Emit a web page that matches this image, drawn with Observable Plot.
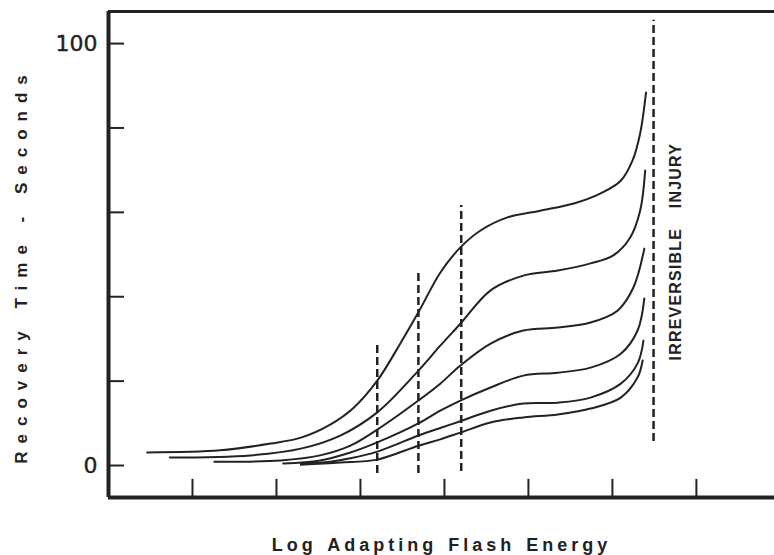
<!DOCTYPE html>
<html>
<head>
<meta charset="utf-8">
<script src="https://cdn.jsdelivr.net/npm/d3@7"></script>
<script src="https://cdn.jsdelivr.net/npm/@observablehq/plot@0.6"></script>
<style>
  html, body { margin: 0; padding: 0; background: #fff; }
</style>
</head>
<body>
<div id="chart"></div>
<script>
// Axis ticks
const xTicks = [1, 2, 3, 4, 5, 6, 7];
const yTicks = [0, 20, 40, 60, 80, 100];
const yTickLabels = [0, 100];

// Six recovery curves (x = log adapting flash energy in tick units, y = seconds)
const c1x = [0.46, 1.33, 1.93, 2.29, 2.64, 2.92, 3.20, 3.48, 3.69, 3.95, 4.19, 4.43, 4.75, 5.14, 5.54, 5.86, 6.10, 6.24, 6.33, 6.40];
const c1y = [3.1, 3.6, 5.2, 6.6, 9.7, 13.7, 20.1, 29.1, 36.3, 45.7, 51.7, 55.7, 58.8, 60.4, 62.1, 64.5, 67.5, 72.3, 78.7, 88.4];
const c2x = [0.73, 1.69, 2.29, 2.76, 3.20, 3.69, 3.95, 4.19, 4.55, 4.94, 5.35, 5.74, 6.01, 6.21, 6.33, 6.39];
const c2y = [1.9, 2.4, 4.0, 7.1, 12.6, 22.5, 28.4, 33.6, 41.5, 45.0, 46.2, 47.9, 49.8, 54.0, 60.4, 69.9];
const c3x = [1.26, 2.05, 2.52, 2.88, 3.20, 3.69, 3.95, 4.19, 4.55, 4.94, 5.35, 5.74, 6.06, 6.25, 6.38];
const c3y = [0.9, 1.2, 2.4, 4.7, 8.5, 15.4, 19.4, 23.7, 28.9, 32.0, 32.7, 33.9, 36.7, 42.2, 51.4];
const c4x = [2.08, 2.52, 2.88, 3.20, 3.69, 3.95, 4.19, 4.55, 4.94, 5.35, 5.74, 6.10, 6.30, 6.38];
const c4y = [0.5, 1.2, 3.1, 5.5, 10.0, 13.0, 15.4, 18.5, 21.3, 22.0, 23.2, 26.5, 32.0, 39.6];
const c5x = [2.29, 2.64, 2.88, 3.20, 3.69, 3.95, 4.19, 4.55, 4.94, 5.35, 5.74, 6.10, 6.30, 6.37];
const c5y = [0.5, 0.9, 1.7, 3.3, 7.1, 8.9, 10.5, 13.0, 14.7, 14.9, 16.1, 19.4, 24.2, 29.6];
const c6x = [2.29, 2.76, 3.20, 3.69, 3.95, 4.19, 4.55, 4.94, 5.35, 5.74, 6.10, 6.30, 6.36];
const c6y = [0.2, 0.7, 1.4, 4.7, 6.2, 7.8, 10.2, 11.4, 12.1, 13.5, 16.1, 20.9, 24.9];

// Dashed vertical markers
const dashX = [3.20, 3.69, 4.20, 6.49];
const dashTop = [29.1, 45.7, 61.6, 105.5];
const dashBottom = [-1.9, -1.9, -1.4, 5.7];

const xTitle = "Log Adapting Flash Energy";
const yTitle = "Recovery Time - Seconds";
const injuryLabel = "IRREVERSIBLE INJURY";

const xDomain = [0, 7.93];
const yDomain = [-7.58, 107.6];

const series = [[c1x, c1y], [c2x, c2y], [c3x, c3y], [c4x, c4y], [c5x, c5y], [c6x, c6y]];
const rows = series.flatMap(([xs, ys], i) => xs.map((x, j) => ({series: i, x, y: ys[j]})));
const dashes = dashX.map((x, i) => ({x, y1: dashBottom[i], y2: dashTop[i]}));

const ink = "#222";
const font = "'Liberation Sans', Arial, Helvetica, sans-serif";

const chart = Plot.plot({
  width: 774,
  height: 555,
  marginLeft: 108,
  marginRight: 0,
  marginTop: 11,
  marginBottom: 58,
  style: {fontFamily: font, background: "#fff"},
  x: {domain: xDomain, axis: null},
  y: {domain: yDomain, axis: null},
  marks: [
    // frame
    Plot.ruleY([yDomain[1]], {stroke: ink, strokeWidth: 3}),
    Plot.ruleX([xDomain[0]], {stroke: ink, strokeWidth: 4}),
    Plot.ruleY([yDomain[0]], {stroke: ink, strokeWidth: 4}),
    // inward ticks
    Plot.ruleX(xTicks, {x: d => d, y1: yDomain[0], y2: yDomain[0] + 4.3, stroke: ink, strokeWidth: 2}),
    Plot.ruleY(yTicks, {y: d => d, x1: 0, x2: 0.19, stroke: ink, strokeWidth: 2}),
    // tick labels
    Plot.text(yTickLabels, {x: 0, y: d => d, text: d => String(d), dx: -11, textAnchor: "end", fontSize: 22, fontFamily: "'DejaVu Sans', sans-serif", fill: ink, stroke: ink, strokeWidth: 0.4}),
    // dashed markers
    Plot.ruleX(dashes, {x: "x", y1: "y1", y2: "y2", stroke: ink, strokeWidth: 2.5, strokeDasharray: "8,4"}),
    // curves
    Plot.line(rows, {x: "x", y: "y", z: "series", curve: "catmull-rom", stroke: ink, strokeWidth: 2}),
    // annotation
    Plot.text([injuryLabel], {x: 6.75, y: 24.9, rotate: -90, textAnchor: "start", fontSize: 16, fontWeight: "bold", fill: ink}),
    // titles
    Plot.text([yTitle], {frameAnchor: "left", textAnchor: "middle", dx: -87, dy: 11, rotate: -90, fontSize: 17, fontWeight: "bold", fill: ink}),
    Plot.text([xTitle], {frameAnchor: "bottom", textAnchor: "middle", lineAnchor: "middle", dy: 48, fontSize: 18, fontWeight: "bold", fill: ink})
  ]
});
document.getElementById("chart").appendChild(chart);

// letter spacing for the spaced-out lettering
const spacing = new Map([[yTitle, ["8px", "2px"]], [xTitle, ["4px", "2px"]], [injuryLabel, ["1.2px", "14px"]]]);
d3.select(chart).selectAll("text").each(function () {
  const s = spacing.get(this.textContent);
  if (s) {
    this.style.letterSpacing = s[0];
    this.style.wordSpacing = s[1];
  }
});
</script>
</body>
</html>
